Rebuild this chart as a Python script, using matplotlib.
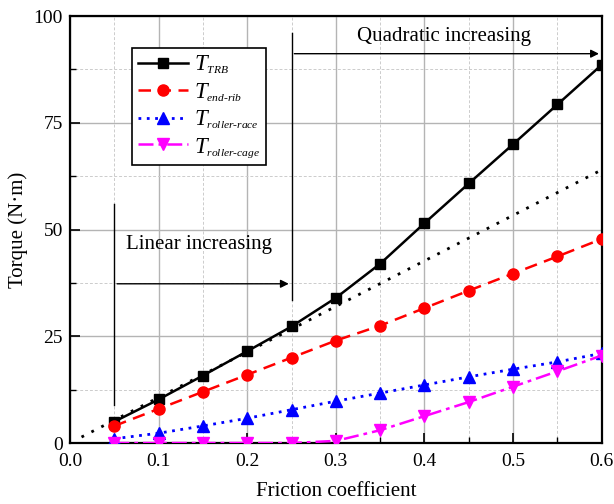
import matplotlib
matplotlib.use('Agg')
import matplotlib.pyplot as plt
import matplotlib._mathtext as mathtext_impl
from matplotlib.ticker import MultipleLocator

plt.rcParams['font.family'] = ['Liberation Serif', 'DejaVu Serif']
plt.rcParams['mathtext.fontset'] = 'custom'
plt.rcParams['mathtext.rm'] = 'Liberation Serif'
plt.rcParams['mathtext.it'] = 'Liberation Serif:italic'
# 下标缩小一些，接近原图比例
mathtext_impl.SHRINK_FACTOR = 0.5

# ============ 数据 ============
mu = [0.05, 0.10, 0.15, 0.20, 0.25, 0.30, 0.35, 0.40, 0.45, 0.50, 0.55, 0.60]
t_trb = [5.0, 10.2, 15.8, 21.5, 27.3, 34.0, 42.0, 51.5, 60.8, 70.0, 79.3, 88.6]
t_end_rib = [4.0, 8.0, 12.0, 16.0, 20.0, 24.0, 27.5, 31.6, 35.7, 39.7, 43.7, 47.8]
t_roller_race = [1.0, 2.3, 4.0, 5.8, 7.8, 9.8, 11.7, 13.6, 15.5, 17.3, 19.0, 21.0]
t_roller_cage = [0.0, 0.0, 0.0, 0.0, 0.0, 0.5, 3.0, 6.3, 9.6, 13.2, 16.8, 20.5]
labels = [r'$T_{TRB}$', r'$T_{end\text{-}rib}$',
          r'$T_{roller\text{-}race}$', r'$T_{roller\text{-}cage}$']

# 线性趋势线端点
fit_x = [0.013, 0.60]
fit_y = [1.4, 64.0]

fig = plt.figure(figsize=(6.14, 5.04), dpi=100)
ax = fig.add_axes([0.114, 0.121, 0.866, 0.847])

ax.plot(fit_x, fit_y, color='black', linestyle=(0, (1, 3)), linewidth=2)
ax.plot(mu, t_trb, color='black', linestyle='-', linewidth=1.8, marker='s',
        markersize=7, label=labels[0], zorder=5)
ax.plot(mu, t_end_rib, color='red', linestyle=(0, (5, 3)), linewidth=1.8, marker='o',
        markersize=8, label=labels[1], zorder=5)
ax.plot(mu, t_roller_race, color='blue', linestyle=(0, (1, 2)), linewidth=2, marker='^',
        markersize=8, label=labels[2], zorder=5)
ax.plot(mu, t_roller_cage, color='magenta', linestyle=(0, (6, 2, 1.5, 2)), linewidth=1.8,
        marker='v', markersize=8, label=labels[3], zorder=5)

# 区间标注
ax.plot([0.05, 0.05], [9, 56], color='black', linewidth=1)
ax.plot([0.25, 0.25], [33.5, 96], color='black', linewidth=1)
ax.annotate('', xy=(0.25, 37.3), xytext=(0.05, 37.3),
            arrowprops=dict(arrowstyle='-|>', color='black', lw=1, mutation_scale=12))
ax.annotate('', xy=(0.60, 91.2), xytext=(0.25, 91.2),
            arrowprops=dict(arrowstyle='-|>', color='black', lw=1, mutation_scale=12))
ax.text(0.146, 46.5, 'Linear increasing', fontsize=15, ha='center', va='center')
ax.text(0.422, 95.2, 'Quadratic increasing', fontsize=15, ha='center', va='center')

ax.set_xlim(0, 0.6)
ax.set_ylim(0, 100)
ax.xaxis.set_major_locator(MultipleLocator(0.1))
ax.xaxis.set_minor_locator(MultipleLocator(0.05))
ax.yaxis.set_major_locator(MultipleLocator(25))
ax.yaxis.set_minor_locator(MultipleLocator(12.5))
ax.set_xticks([0.0, 0.1, 0.2, 0.3, 0.4, 0.5, 0.6])
ax.set_xticklabels(['0.0', '0.1', '0.2', '0.3', '0.4', '0.5', '0.6'])
ax.tick_params(which='major', direction='in', length=7, width=1.2, labelsize=14)
ax.tick_params(which='minor', direction='in', length=4, width=1)
ax.tick_params(axis='x', which='major', pad=7)
ax.tick_params(axis='y', which='major', pad=5)
ax.grid(which='major', color='#b4b4b4', linestyle='-', linewidth=1)
ax.grid(which='minor', color='#cccccc', linestyle=(0, (3, 2)), linewidth=0.7)
for s in ax.spines.values():
    s.set_linewidth(1.6)

ax.set_xlabel('Friction coefficient', fontsize=15, labelpad=9)
ax.set_ylabel('Torque (N·m)', fontsize=15, labelpad=4)

leg = ax.legend(loc='upper left', bbox_to_anchor=(0.117, 0.925), fontsize=16.5,
                frameon=True, fancybox=False, handlelength=2.2, borderpad=0.25,
                labelspacing=0.22, handletextpad=0.25, borderaxespad=0)
leg.get_frame().set_edgecolor('black')
leg.get_frame().set_linewidth(1.2)
leg.get_frame().set_alpha(1)

fig.savefig('out.png', dpi=100)
